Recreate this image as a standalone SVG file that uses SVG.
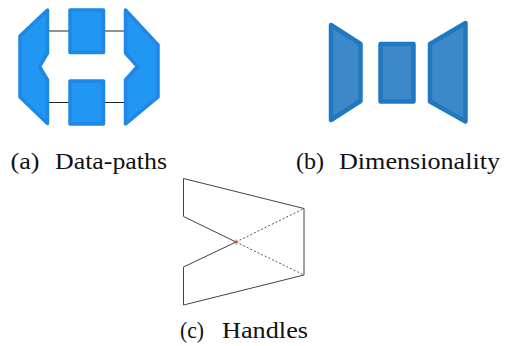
<svg xmlns="http://www.w3.org/2000/svg" width="506" height="346" viewBox="0 0 506 346">
<style>
.a{fill:#2196f3;stroke:#1e88e5;stroke-width:3.500;stroke-linejoin:round}
.b{fill:#3d88c9;stroke:#2079c0;stroke-width:4.500;stroke-linejoin:round}
.w{fill:none;stroke:#222;stroke-width:1}
.h{fill:none;stroke:#444;stroke-width:1}
.d{fill:none;stroke:#555;stroke-width:1;stroke-dasharray:2 2}
.t{font-family:"Liberation Serif",serif;font-size:24px;fill:#111}
</style>
<rect width="506" height="346" fill="#fff"/>
<g id="connectors">
<path class="w" d="M48 31H69M104 31H125M48 102.500H69M104 102.500H125"/>
</g>
<g id="a-left"><polygon class="a" points="47.500,10 47.500,53 39.500,66.500 47.500,80 47.500,123.500 20,97 20,36"/></g>
<g id="a-top"><rect class="a" x="70" y="10" width="33.500" height="42.500"/></g>
<g id="a-bottom"><rect class="a" x="70" y="81" width="33.500" height="43"/></g>
<g id="a-right"><polygon class="a" points="125.500,10 158,45 158,97 125.500,124 125.500,80 137.500,66.500 125.500,53"/></g>
<text class="t" x="10.500" y="169" textLength="29" lengthAdjust="spacingAndGlyphs">(a)</text>
<text class="t" x="55" y="169" textLength="112" lengthAdjust="spacingAndGlyphs">Data-paths</text>
<g id="b-left"><polygon class="b" points="331,25 360.500,44 360.500,101 331,120"/></g>
<g id="b-middle"><rect class="b" x="380.500" y="44" width="33" height="57.500"/></g>
<g id="b-right"><polygon class="b" points="430,44 465.500,23 465.500,121.500 430,101.500"/></g>
<text class="t" x="296" y="169" textLength="28" lengthAdjust="spacingAndGlyphs">(b)</text>
<text class="t" x="339" y="169" textLength="161" lengthAdjust="spacingAndGlyphs">Dimensionality</text>
<g id="c-handles">
<path class="h" d="M236 242L183.500 216.500V178.500L304 208.500V275L183.500 305V267L236 242"/>
<path class="d" d="M236 242L304 208.500M236 242L304 275"/>
<path d="M233.500 242H238.500M236 239.500V244.500" stroke="#d9534f" stroke-width="1" fill="none"/>
</g>
<text class="t" x="180" y="338" textLength="24" lengthAdjust="spacingAndGlyphs">(c)</text>
<text class="t" x="222" y="338" textLength="86" lengthAdjust="spacingAndGlyphs">Handles</text>
</svg>
